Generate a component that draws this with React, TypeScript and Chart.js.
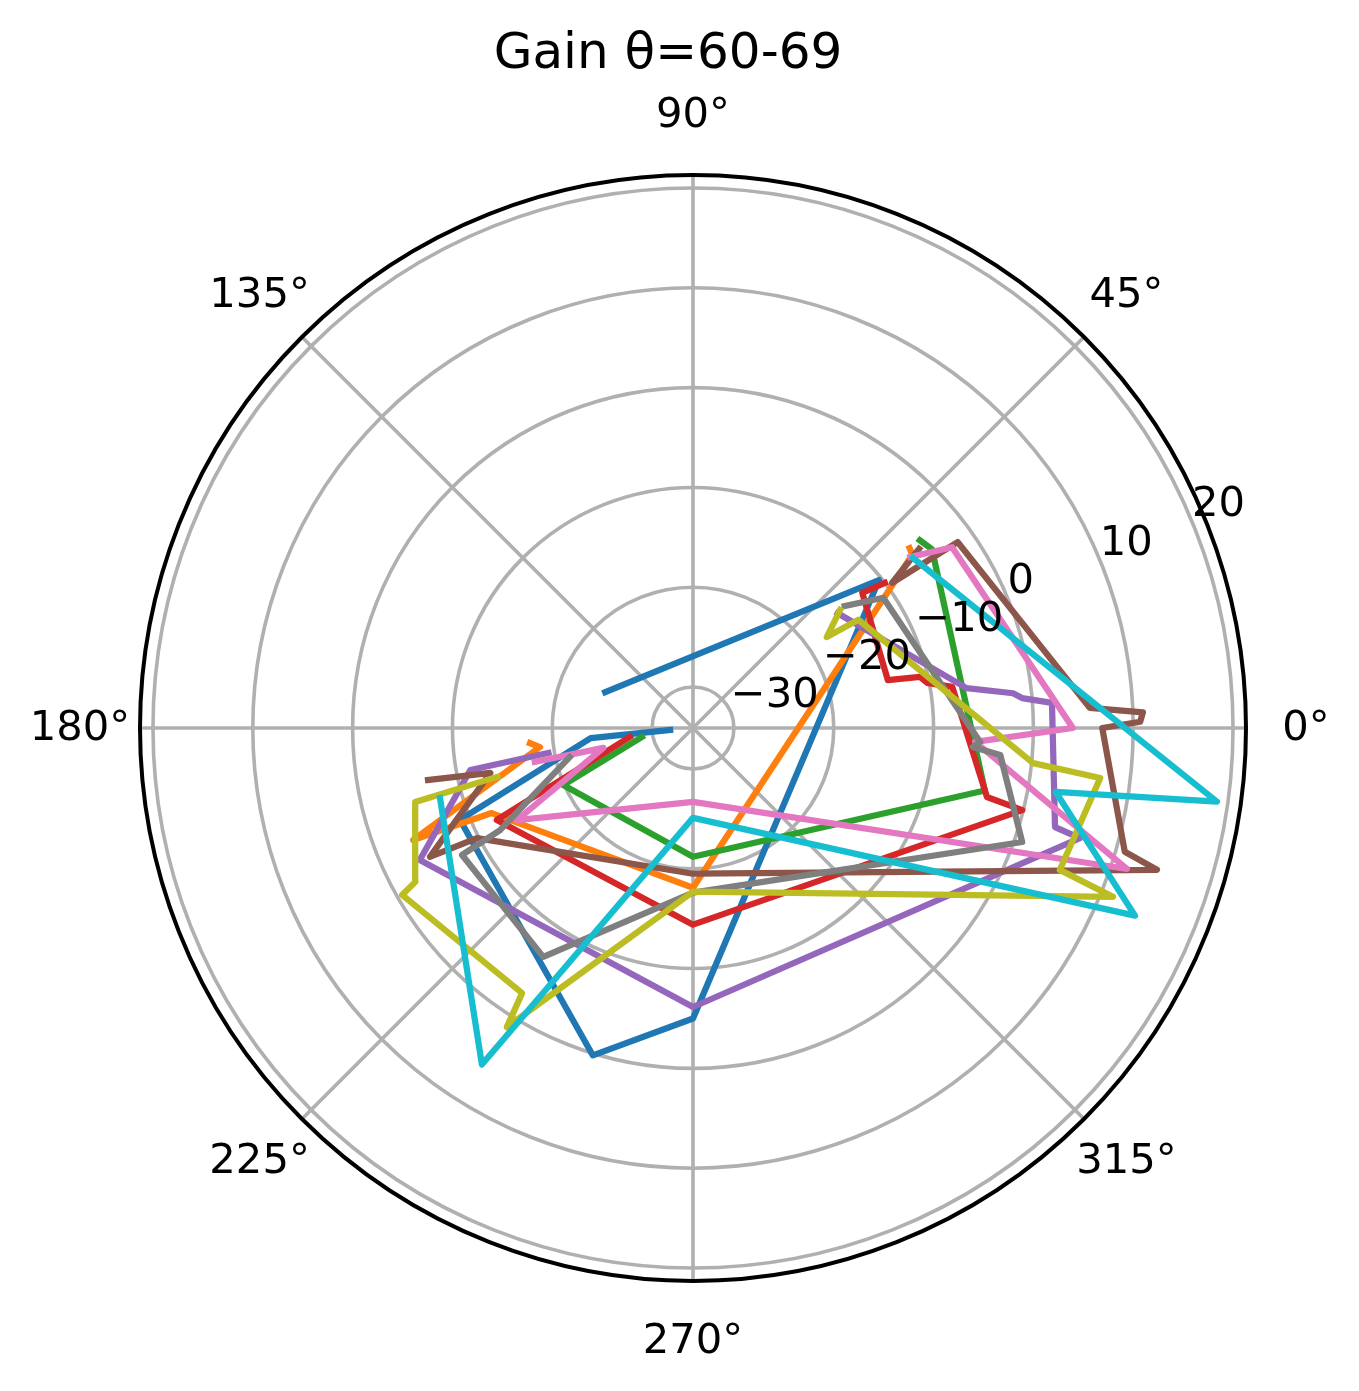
import React, { useEffect, useRef } from 'react';
import { Chart, registerables } from 'chart.js';

Chart.register(...registerables);

// radial axis limits (dB) and ticks
const R_MIN = -34.1;
const R_MAX = 21.3;
const R_TICKS = [-30, -20, -10, 0, 10, 20];
const ANGLE_TICKS = [0, 45, 90, 135, 180, 225, 270, 315];
const TITLE = 'Gain θ=60-69';

const seriesLabels = ['θ=60', 'θ=61', 'θ=62', 'θ=63', 'θ=64', 'θ=65', 'θ=66', 'θ=67', 'θ=68', 'θ=69'];
const seriesColors = [
  '#1f77b4', '#ff7f0e', '#2ca02c', '#d62728', '#9467bd',
  '#8c564b', '#e377c2', '#7f7f7f', '#bcbd22', '#17becf',
];

// angle (deg) / gain (dB) per trace, in plotting order
const angle0 = [157.8, 38.5, -90, -107.0, -158.5, -174.4, -175.0];
const gain0 = [-24.6, -10.3, -5.0, 0.2, -9.0, -23.8, -31.8];

const angle1 = [39.7, 38.3, -90, -157.1, -158.2, -172.9, -174.7];
const gain1 = [-5.9, -6.1, -18.1, -12.2, -3.9, -18.65, -17.7];

const angle2 = [39.6, 36.8, -12.1, -90, -156.3, -170.0];
const gain2 = [-4.6, -4.2, -4.2, -21.2, -19.9, -28.9];

const angle3 = [37.1, 38.6, 13.8, 12.7, 10.9, 9.0, -13.2, -14.0, -90, -154.9, -171.9];
const gain3 = [-10.0, -12.4, -14.0, -10.8, -10.2, -7.8, -3.85, -0.1, -14.4, -12.4, -27.7];

const angle4 = [38.4, 8.3, 6.2, 5.2, 4.0, -15.3, -15.9, -90, -154.2, -169.3, -170.2];
const gain4 = [-15.6, -6.4, -1.85, -1.0, 1.95, 3.5, 6.2, -6.15, -3.7, -11.4, -19.4];

const angle5 = [38.4, 36.1, 35.1, 2.9, 2.0, 0.8, 0.0, -16.0, -17.0, -90, -153.0, -153.9, -167.5, -168.9];
const gain5 = [-5.2, -9.4, -1.7, 5.7, 11.0, 10.7, 6.9, 10.9, 14.5, -19.5, -9.8, -4.75, -13.3, -7.05];

const angle6 = [38.2, 34.9, 0.0, -2.8, -18.0, -90, -152.4, -167.5, -167.9];
const gain6 = [-6.4, -2.45, 3.95, -5.8, 11.6, -26.7, -14.2, -24.9, -17.9];

const angle7 = [38.8, 34.4, -2.8, -3.9, -5.0, -19.1, -90, -123.2, -151.2, -152.1, -166.7];
const gain7 = [-14.6, -11.0, -5.3, -6.0, -3.2, 0.8, -17.6, -6.7, -7.7, -12.2, -21.4];

const angle8 = [38.75, 34.2, 33.2, -5.9, -7.0, -21.15, -21.9, -90, -121.9, -122.8, -150.15, -151.0, -165.1, -166.0];
const gain8 = [-15.2, -17.9, -14.3, 0.15, 7.0, 5.3, 11.25, -17.7, 1.2, -2.5, -0.5, -2.3, -5.3, -13.9];

const angle9 = [37.7, -8.0, -10.0, -23.0, -90, -122.1, -164.5];
const gain9 = [-6.25, 18.9, 2.8, 14.0, -25.1, 5.7, -7.8];

const allAngles = [angle0, angle1, angle2, angle3, angle4, angle5, angle6, angle7, angle8, angle9];
const allGains = [gain0, gain1, gain2, gain3, gain4, gain5, gain6, gain7, gain8, gain9];

const SPAN = R_MAX - R_MIN;
const FONT = '"DejaVu Sans", Verdana, sans-serif';
const LINE_W = 6.25;

// polar -> cartesian in data units (radius measured from R_MIN)
const toPoint = (deg: number, gain: number) => {
  const r = gain - R_MIN;
  const a = (deg * Math.PI) / 180;
  return { x: r * Math.cos(a), y: r * Math.sin(a) };
};

const polarFrame = {
  id: 'polarFrame',
  beforeDraw(chart: any) {
    const { ctx, width, height } = chart;
    ctx.save();
    ctx.fillStyle = '#ffffff';
    ctx.fillRect(0, 0, width, height);
    ctx.restore();
  },
  beforeDatasetsDraw(chart: any) {
    const { ctx } = chart;
    const xs = chart.scales.x;
    const ys = chart.scales.y;
    const cx = xs.getPixelForValue(0);
    const cy = ys.getPixelForValue(0);
    const rad = (v: number) => xs.getPixelForValue(v - R_MIN) - cx;
    const R = xs.getPixelForValue(SPAN) - cx;

    ctx.save();
    ctx.strokeStyle = '#b0b0b0';
    ctx.lineWidth = 3.6;
    R_TICKS.forEach((t) => {
      ctx.beginPath();
      ctx.arc(cx, cy, rad(t), 0, Math.PI * 2);
      ctx.stroke();
    });
    ANGLE_TICKS.forEach((a) => {
      const ar = (a * Math.PI) / 180;
      ctx.beginPath();
      ctx.moveTo(cx, cy);
      ctx.lineTo(cx + R * Math.cos(ar), cy - R * Math.sin(ar));
      ctx.stroke();
    });
    ctx.restore();
  },
  afterDatasetsDraw(chart: any) {
    const { ctx } = chart;
    const xs = chart.scales.x;
    const ys = chart.scales.y;
    const cx = xs.getPixelForValue(0);
    const cy = ys.getPixelForValue(0);
    const rad = (v: number) => xs.getPixelForValue(v - R_MIN) - cx;
    const R = xs.getPixelForValue(SPAN) - cx;

    ctx.save();
    // outer spine
    ctx.strokeStyle = '#000000';
    ctx.lineWidth = 4;
    ctx.beginPath();
    ctx.arc(cx, cy, R, 0, Math.PI * 2);
    ctx.stroke();

    ctx.fillStyle = '#000000';
    ctx.font = `41.7px ${FONT}`;
    ctx.textBaseline = 'alphabetic';

    // angle labels
    ctx.textAlign = 'center';
    const labelR = R + 60;
    ANGLE_TICKS.forEach((a) => {
      const ar = (a * Math.PI) / 180;
      ctx.fillText(`${a}°`, cx + labelR * Math.cos(ar), cy - labelR * Math.sin(ar) + 12);
    });

    // radial labels at 22.5°
    ctx.textAlign = 'left';
    const la = (22.5 * Math.PI) / 180;
    R_TICKS.forEach((t) => {
      const r = rad(t);
      const txt = t < 0 ? `\u2212${Math.abs(t)}` : `${t}`;
      ctx.fillText(txt, cx + r * Math.cos(la), cy - r * Math.sin(la) - 5);
    });

    // title
    ctx.font = `50px ${FONT}`;
    ctx.textAlign = 'center';
    ctx.fillText(TITLE, 668, 68);
    ctx.restore();
  },
};

const App: React.FC = () => {
  const canvasRef = useRef<HTMLCanvasElement | null>(null);

  useEffect(() => {
    document.body.style.margin = '0';
    if (!canvasRef.current) return;
    const ctx = canvasRef.current.getContext('2d');
    if (!ctx) return;

    const datasets = allAngles.map((angles, i) => ({
      label: seriesLabels[i],
      data: angles.map((a, j) => toPoint(a, allGains[i][j])),
      showLine: true,
      borderColor: seriesColors[i],
      backgroundColor: seriesColors[i],
      borderWidth: LINE_W,
      borderJoinStyle: 'round' as const,
      borderCapStyle: 'square' as const,
      pointRadius: 0,
      fill: false,
      tension: 0,
      order: 9 - i, // later traces on top, like matplotlib
    }));

    const chart = new Chart(ctx, {
      type: 'scatter',
      data: { datasets },
      options: {
        animation: false,
        responsive: false,
        devicePixelRatio: 1,
        layout: { padding: { left: 140, right: 113, top: 175, bottom: 110 } },
        scales: {
          x: { type: 'linear', min: -SPAN, max: SPAN, display: false },
          y: { type: 'linear', min: -SPAN, max: SPAN, display: false },
        },
        plugins: {
          legend: { display: false },
          tooltip: { enabled: false },
          title: { display: false },
        },
      },
      plugins: [polarFrame],
    });

    return () => {
      chart.destroy();
    };
  }, []);

  return <canvas ref={canvasRef} width={1359} height={1391} style={{ display: 'block' }} />;
};

export default App;
